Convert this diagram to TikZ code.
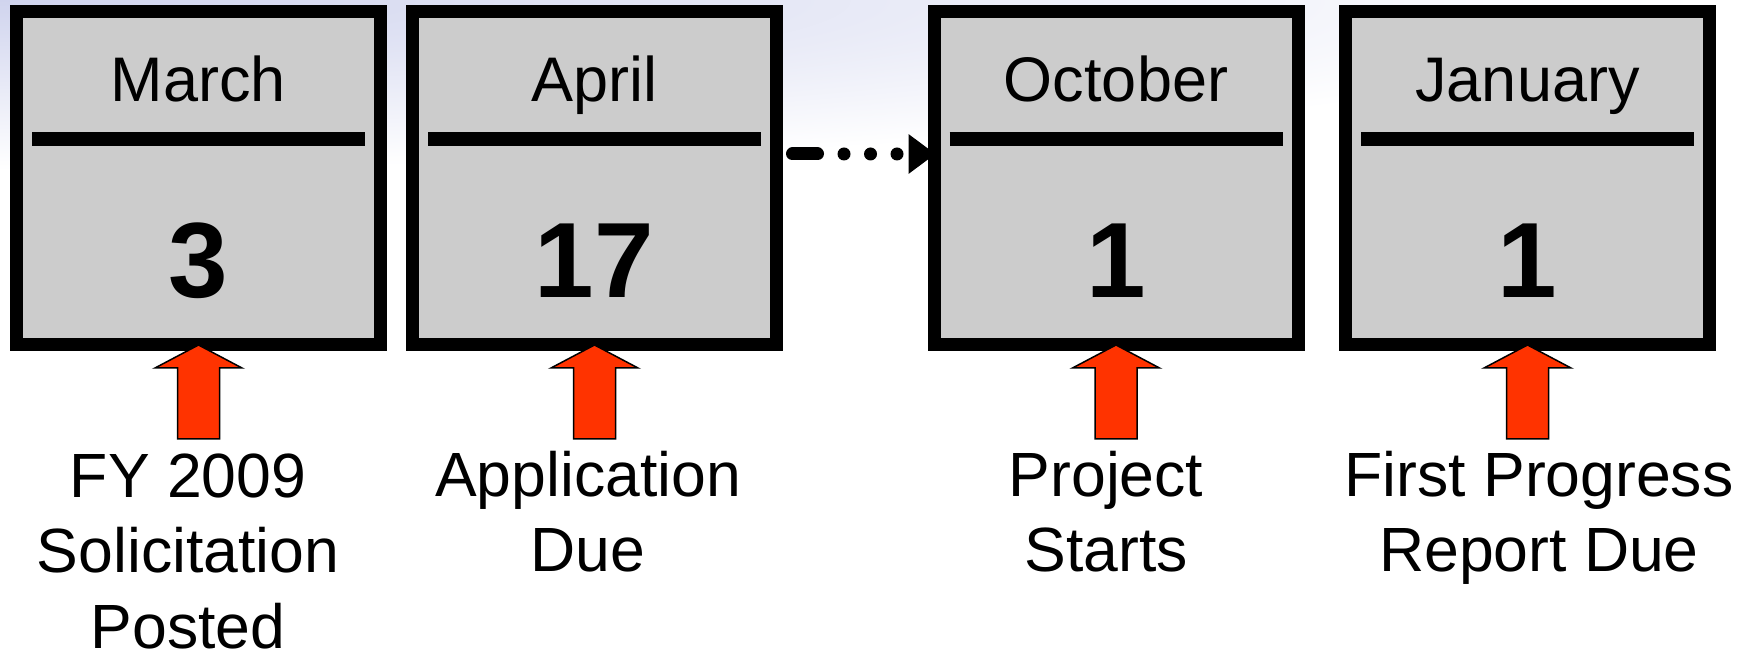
\documentclass[tikz,border=0pt]{standalone}
\usepackage{fontspec}
\setmainfont{Liberation Sans}
\usetikzlibrary{arrows.meta}
\definecolor{boxgray}{HTML}{CCCCCC}
\definecolor{alertred}{HTML}{FF3300}
\definecolor{haze}{RGB}{208,212,238}
\begin{document}
\begin{tikzpicture}[x=1pt,y=1pt,
  calbox/.style={draw=black, line width=13pt, fill=boxgray,
    minimum width=364pt, minimum height=333pt, inner sep=0pt, outer sep=6.5pt},
  monthtext/.style={anchor=base, inner sep=0pt, font=\fontsize{63}{63}\selectfont},
  daytext/.style={anchor=base, inner sep=0pt, font=\bfseries\fontsize{107}{107}\selectfont},
  divider/.style={line width=13.5pt},
  eventlabel/.style={anchor=base, align=center, inner sep=0pt,
    font=\fontsize{62.5}{75.5}\selectfont},
  redpointer/.style={fill=alertred, draw=black, line width=1.5pt, line join=miter},
  later/.style={line width=13pt, line cap=round,
    dash pattern=on 25pt off 26.5pt on 0pt off 26.5pt on 0pt off 26.5pt on 0pt off 200pt,
    -{Triangle[length=27pt,width=38pt]}},
  pics/uparrow/.style={code={
    \draw[redpointer] (0,0) -- (43.5,-23) -- (21,-23) -- (21,-94)
      -- (-21,-94) -- (-21,-23) -- (-43.5,-23) -- cycle;}}
]
\useasboundingbox (0,0) rectangle (1745,653);

% soft slide tint in the upper left corner
\begin{scope}
  \clip (0,0) rectangle (1745,653);
  \shade[inner color=haze, outer color=white] (0,653) ellipse [x radius=1700, y radius=170];
\end{scope}

% calendar pages
\node[calbox] (m1) at (198.5,475) {};
\node[calbox] (m2) at (594.5,475) {};
\node[calbox] (m3) at (1116,475) {};
\node[calbox] (m4) at (1527.5,475) {};

\foreach \b/\month/\day in {m1/March/3, m2/April/17, m3/October/1, m4/January/1}{
  \node[monthtext] (\b-month) at ([yshift=76pt]\b.center) {\month};
  \draw[divider] ([shift={(22pt,39pt)}]\b.west) -- ([shift={(-22pt,39pt)}]\b.east);
  \node[daytext] (\b-day) at ([yshift=-120pt]\b.center) {\day};
  \pic at ([yshift=6pt]\b.south) {uparrow};
}

% gap in the timeline
\draw[later] ([shift={(9.5pt,24pt)}]m2.east) -- ([shift={(8pt,24pt)}]m3.west);

% event captions (anchored at the baseline of their last line)
\node[eventlabel] (e1) at ([xshift=-10.5pt,yshift=-297pt]m1.south) {FY 2009\\Solicitation\\Posted};
\node[eventlabel] (e2) at ([xshift=-6.5pt,yshift=-221pt]m2.south) {Application\\Due};
\node[eventlabel] (e3) at ([xshift=-10pt,yshift=-221pt]m3.south) {Project\\Starts};
\node[eventlabel] (e4) at ([xshift=11.5pt,yshift=-221pt]m4.south) {First Progress\\Report Due};
\end{tikzpicture}
\end{document}
